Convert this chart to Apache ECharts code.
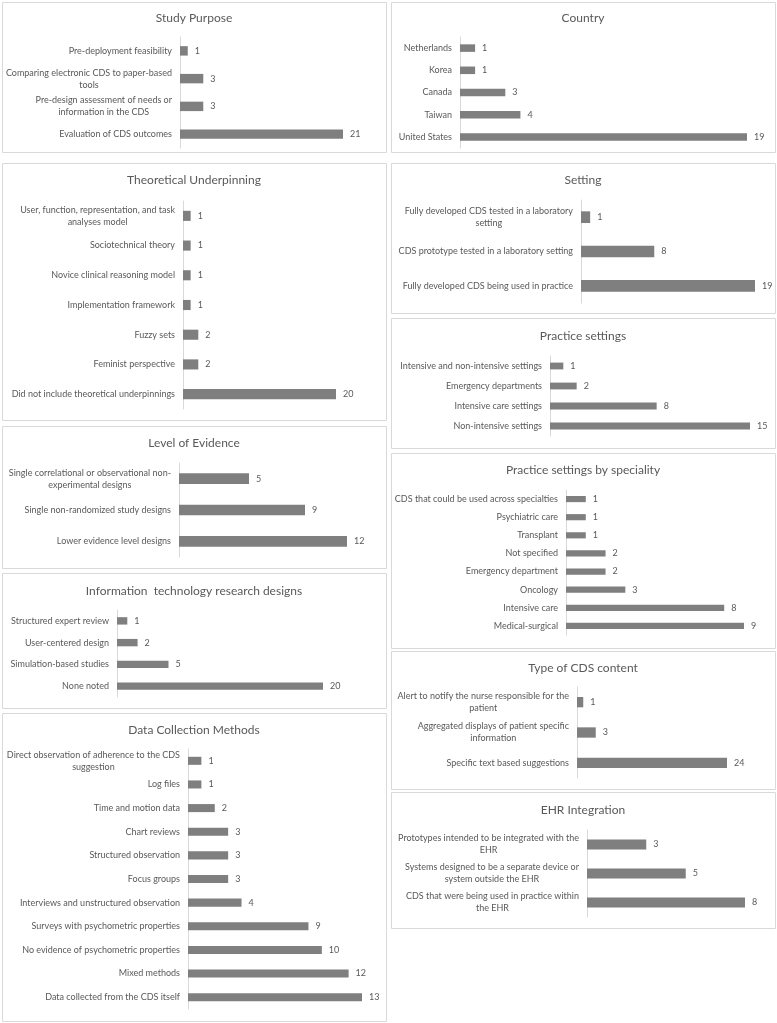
<!DOCTYPE html>
<html>
<head>
<meta charset="utf-8">
<script src="https://cdn.jsdelivr.net/npm/echarts@6/dist/echarts.min.js"></script>
<style>
  html, body { margin: 0; padding: 0; background: #fff; }
  #chart { width: 777px; height: 1023px; }
</style>
</head>
<body>
<div id="chart"></div>
<script>
// ---- data (top to bottom order as in the figure) ----
var studyPurposeCats = ['Pre-deployment feasibility', 'Comparing electronic CDS to paper-based\ntools', 'Pre-design assessment of needs or\ninformation in the CDS', 'Evaluation of CDS outcomes']
var studyPurposeVals = [1, 3, 3, 21]

var countryCats = ['Netherlands', 'Korea', 'Canada', 'Taiwan', 'United States']
var countryVals = [1, 1, 3, 4, 19]

var theoryCats = ['User, function, representation, and task\nanalyses model', 'Sociotechnical theory', 'Novice clinical reasoning model', 'Implementation framework', 'Fuzzy sets', 'Feminist perspective', 'Did not include theoretical underpinnings']
var theoryVals = [1, 1, 1, 1, 2, 2, 20]

var settingCats = ['Fully developed CDS tested in a laboratory\nsetting', 'CDS prototype tested in a laboratory setting', 'Fully developed CDS being used in practice']
var settingVals = [1, 8, 19]

var practiceCats = ['Intensive and non-intensive settings', 'Emergency departments', 'Intensive care settings', 'Non-intensive settings']
var practiceVals = [1, 2, 8, 15]

var evidenceCats = ['Single correlational or observational non-\nexperimental designs', 'Single non-randomized study designs', 'Lower evidence level designs']
var evidenceVals = [5, 9, 12]

var specialityCats = ['CDS that could be used across specialties', 'Psychiatric care', 'Transplant', 'Not specified', 'Emergency department', 'Oncology', 'Intensive care', 'Medical-surgical']
var specialityVals = [1, 1, 1, 2, 2, 3, 8, 9]

var itDesignCats = ['Structured expert review', 'User-centered design', 'Simulation-based studies', 'None noted']
var itDesignVals = [1, 2, 5, 20]

var contentCats = ['Alert to notify the nurse responsible for the\npatient', 'Aggregated displays of patient specific\ninformation', 'Specific text based suggestions']
var contentVals = [1, 3, 24]

var collectionCats = ['Direct observation of adherence to the CDS\nsuggestion', 'Log files', 'Time and motion data', 'Chart reviews', 'Structured observation', 'Focus groups', 'Interviews and unstructured observation', 'Surveys with psychometric properties', 'No evidence of psychometric properties', 'Mixed methods', 'Data collected from the CDS itself']
var collectionVals = [1, 1, 2, 3, 3, 3, 4, 9, 10, 12, 13]

var ehrCats = ['Prototypes intended to be integrated with the\nEHR', 'Systems designed to be a separate device or\nsystem outside the EHR', 'CDS that were being used in practice within\nthe EHR']
var ehrVals = [3, 5, 8]

// ---- layout: box, title position, plot area (axis x, top, bottom, end of longest bar) ----
var panels = [
  { title: 'Study Purpose', cats: studyPurposeCats, vals: studyPurposeVals, box: [2, 2, 384, 150], ty: 18, ax: 180, top: 37, bottom: 148, end: 343 },
  { title: 'Country', cats: countryCats, vals: countryVals, box: [391, 2, 384, 150], ty: 18, ax: 460, top: 37, bottom: 148, end: 747 },
  { title: 'Theoretical Underpinning', cats: theoryCats, vals: theoryVals, box: [2, 163, 384, 257], ty: 180, ax: 183, top: 201, bottom: 409, end: 336 },
  { title: 'Setting', cats: settingCats, vals: settingVals, box: [391, 163, 384, 150], ty: 180, ax: 581, top: 200, bottom: 303, end: 755 },
  { title: 'Practice settings', cats: practiceCats, vals: practiceVals, box: [391, 318, 384, 130], ty: 336, ax: 550, top: 356, bottom: 436, end: 750 },
  { title: 'Level of Evidence', cats: evidenceCats, vals: evidenceVals, box: [2, 426, 384, 142], ty: 443, ax: 179, top: 463, bottom: 557, end: 347 },
  { title: 'Practice settings by speciality', cats: specialityCats, vals: specialityVals, box: [391, 453, 384, 195], ty: 470, ax: 566, top: 490, bottom: 635, end: 744 },
  { title: 'Information  technology research designs', cats: itDesignCats, vals: itDesignVals, box: [2, 573, 384, 135], ty: 591, ax: 117, top: 610, bottom: 697, end: 323 },
  { title: 'Type of CDS content', cats: contentCats, vals: contentVals, box: [391, 651, 384, 138], ty: 668, ax: 577, top: 687, bottom: 778, end: 727 },
  { title: 'Data Collection Methods', cats: collectionCats, vals: collectionVals, box: [2, 713, 384, 308], ty: 730, ax: 188, top: 749, bottom: 1009, end: 362 },
  { title: 'EHR Integration', cats: ehrCats, vals: ehrVals, box: [391, 792, 384, 136], ty: 810, ax: 587, top: 830, bottom: 917, end: 745 }
]

var FONT = 'Lato, "Open Sans", sans-serif'
var TEXT = '#595959'
var BAR = '#7f7f7f'

var chart = echarts.init(document.getElementById('chart'))

var grid = []
var xAxis = []
var yAxis = []
var series = []
var graphic = []

panels.forEach(function (p, i) {
  graphic.push({
    type: 'rect',
    shape: { x: p.box[0] + 0.5, y: p.box[1] + 0.5, width: p.box[2], height: p.box[3] },
    style: { fill: 'none', stroke: '#d9d9d9', lineWidth: 1 },
    silent: true
  })
  graphic.push({
    type: 'text',
    x: p.box[0] + p.box[2] / 2,
    y: p.ty,
    style: { text: p.title, fill: TEXT, font: '12px ' + FONT, textAlign: 'center', textVerticalAlign: 'middle' },
    silent: true
  })
  grid.push({ left: p.ax, top: p.top, width: p.end - p.ax, height: p.bottom - p.top, containLabel: false })
  xAxis.push({ type: 'value', gridIndex: i, min: 0, max: Math.max.apply(null, p.vals), show: false })
  yAxis.push({
    type: 'category',
    gridIndex: i,
    inverse: true,
    data: p.cats,
    axisLine: { show: true, lineStyle: { color: '#d9d9d9', width: 1 } },
    axisTick: { show: false },
    splitLine: { show: false },
    axisLabel: {
      interval: 0,
      margin: 8,
      color: TEXT,
      fontSize: 9,
      fontFamily: FONT,
      formatter: function (v) {
        return v.split('\n').map(function (s) { return '{c|' + s + '}' }).join('\n')
      },
      rich: {
        c: { align: 'center', fontSize: 9, lineHeight: 12, color: TEXT, fontFamily: FONT }
      }
    }
  })
  series.push({
    type: 'bar',
    xAxisIndex: i,
    yAxisIndex: i,
    data: p.vals,
    barWidth: '34%',
    itemStyle: { color: BAR },
    label: { show: true, position: 'right', distance: 7, color: TEXT, fontSize: 9, fontFamily: FONT },
    silent: true
  })
})

chart.setOption({
  backgroundColor: '#fff',
  animation: false,
  grid: grid,
  xAxis: xAxis,
  yAxis: yAxis,
  series: series,
  graphic: graphic
})
</script>
</body>
</html>
